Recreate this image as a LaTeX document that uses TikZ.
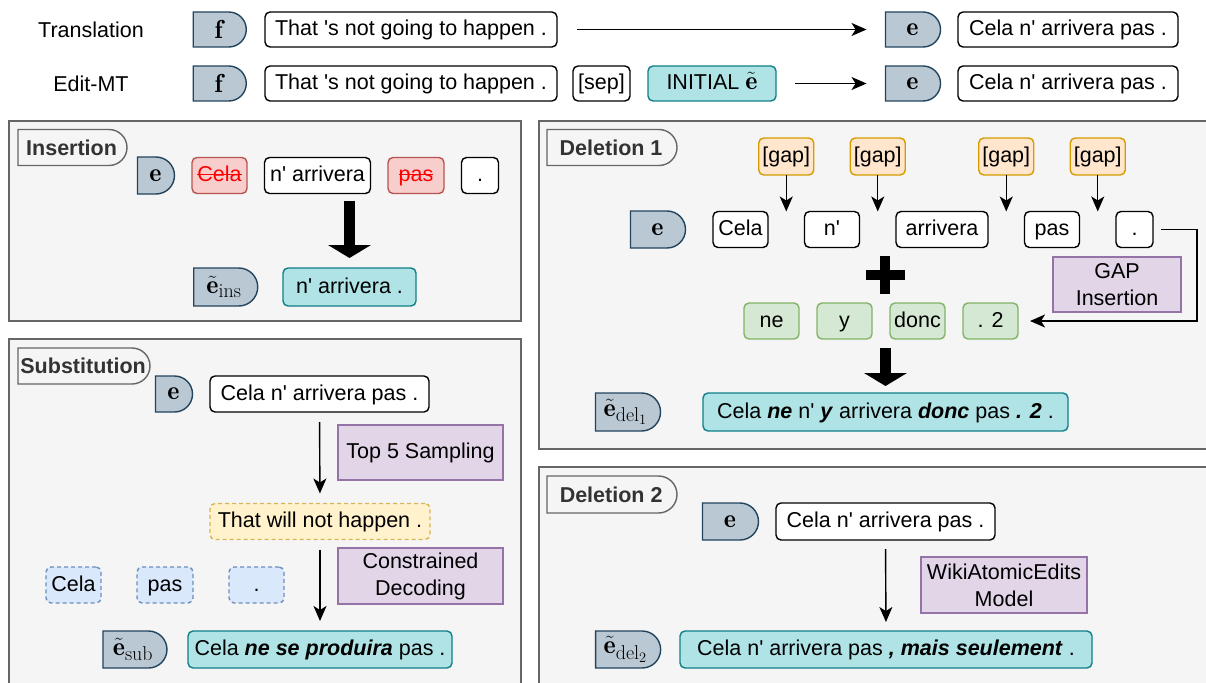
\documentclass[tikz,border=0pt]{standalone}
\usepackage{fontspec}
\setsansfont{Liberation Sans}
\usetikzlibrary{arrows.meta}
\usetikzlibrary{positioning,chains,calc}
\usetikzlibrary{shapes.misc}
\DeclareMathSizes{26}{26}{20}{15}
\definecolor{panelfill}{HTML}{F5F5F5}
\definecolor{panelline}{HTML}{666666}
\definecolor{tagtext}{HTML}{333333}
\definecolor{vecfill}{HTML}{BAC8D3}
\definecolor{vecline}{HTML}{23445D}
\definecolor{tealfill}{HTML}{B0E3E6}
\definecolor{tealline}{HTML}{0E8088}
\definecolor{redfill}{HTML}{F8CECC}
\definecolor{redline}{HTML}{B85450}
\definecolor{orangefill}{HTML}{FFE6CC}
\definecolor{orangeline}{HTML}{D79B00}
\definecolor{greenfill}{HTML}{D5E8D4}
\definecolor{greenline}{HTML}{82B366}
\definecolor{purplefill}{HTML}{E1D5E7}
\definecolor{purpleline}{HTML}{9673A6}
\definecolor{yellowfill}{HTML}{FFF2CC}
\definecolor{yellowline}{HTML}{D6B656}
\definecolor{bluefill}{HTML}{DAE8FC}
\definecolor{blueline}{HTML}{6C8EBF}
\newcommand{\ap}{\textquotesingle}
\newcommand{\bi}[1]{\textbf{\textit{#1}}}
\newsavebox{\strikebox}
\newcommand{\strike}[1]{\sbox{\strikebox}{#1}\rlap{\rule[0.3em]{\wd\strikebox}{1.3pt}}\usebox{\strikebox}}

\begin{document}
\begin{tikzpicture}[
		x=1pt, y=-1pt,
		every node/.style={font=\sffamily\fontsize{21.5}{27}\selectfont,
			inner sep=0pt, outer sep=0pt},
		panel/.style={draw=panelline, fill=panelfill, line width=1.6pt},
		tagbox/.style={rounded rectangle, rounded rectangle west arc=none,% flat left side
			draw=panelline, fill=panelfill, line width=1.4pt, text=tagtext,
			font=\sffamily\bfseries\fontsize{21.5}{27}\selectfont,
			minimum height=36pt, minimum width=#1, anchor=west},
		tagbox/.default=110pt,
		vecbox/.style={rounded rectangle, rounded rectangle west arc=none,
			draw=vecline, fill=vecfill, line width=1.4pt,
			font=\fontsize{26}{30}\selectfont,
			minimum height=37pt, minimum width=#1},
		vecbox/.default=55pt,
		tok/.style={rectangle, rounded corners=5pt, draw=black, fill=white,
			line width=1.4pt, minimum height=36pt, minimum width=#1,
			text height=16pt, text depth=3.5pt},% same baseline in every box
		tok/.default=55pt,
		redtok/.style={tok=#1, draw=redline, fill=redfill, text=red},% struck out words
		redtok/.default=55pt,
		gaptok/.style={tok=#1, draw=orangeline, fill=orangefill},
		gaptok/.default=55pt,
		newtok/.style={tok=#1, draw=greenline, fill=greenfill},
		newtok/.default=55pt,
		outtok/.style={tok=#1, draw=tealline, fill=tealfill},
		outtok/.default=55pt,
		keeptok/.style={tok=#1, draw=blueline, fill=bluefill, dash pattern=on 4pt off 3pt},
		keeptok/.default=55pt,
		candtok/.style={tok=#1, draw=yellowline, fill=yellowfill, dash pattern=on 4pt off 3pt},
		candtok/.default=220pt,
		opbox/.style={rectangle, draw=purpleline, fill=purplefill, line width=1.4pt,
			align=center, minimum width=#1, minimum height=56pt},
		opbox/.default=165pt,
		conn/.style={line width=1.4pt, -{Stealth[length=15pt, width=13pt, inset=4pt]}},
		bigarrow/.style={line width=11pt, -{Triangle[length=13pt, width=43pt, line width=0pt]}},
		]
		\useasboundingbox (0,0) rectangle (1206,682);
		\clip (0,0) rectangle (1206,682);
		% top rows
		\node (labT) at (91,29.5) {Translation};
		\node[vecbox=53pt, minimum height=35pt] (f1) at (218.5,29.5) {$\mathbf{f}$};
		\node[tok=292pt, minimum height=35pt] (s1) at (411,29.5) {That \ap s not going to happen .};
		\node[vecbox=55pt, minimum height=35pt] (e1) at (912.5,29.5) {$\mathbf{e}$};
		\node[tok=220pt, minimum height=35pt] (c1) at (1068,29.5) {Cela n\ap{} arrivera pas .};
		\draw[conn, shorten <=20pt, shorten >=19pt] (s1.east) -- (e1.west);
		\node (labE) at (91,83.5) {Edit-MT};
		\node[vecbox=53pt, minimum height=35pt] (f2) at (218.5,83.5) {$\mathbf{f}$};
		\node[tok=292pt, minimum height=35pt] (s2) at (411,83.5) {That \ap s not going to happen .};
		\node[tok=57pt, minimum height=35pt] (sep) at (601.5,83.5) {[sep]};
		\node[outtok=128pt, minimum height=35pt] (init) at (712,83.5) {INITIAL {\fontsize{26}{30}\selectfont$\tilde{\mathbf{e}}$}};
		\node[vecbox=55pt, minimum height=35pt] (e2) at (912.5,83.5) {$\mathbf{e}$};
		\node[tok=220pt, minimum height=35pt] (c2) at (1068,83.5) {Cela n\ap{} arrivera pas .};
		\draw[conn, shorten <=19pt, shorten >=19pt] (init.east) -- (e2.west);
		% insertion
		\draw[panel] (9,121) rectangle (521,321);
		\node[tagbox=109pt] (insTag) at (18,147.5) {Insertion};
		\node[vecbox=37pt] (insE) at (155.5,175.5) {$\mathbf{e}$};
		\begin{scope}[start chain=ins going right, node distance=17.5pt]
			\node[redtok=55pt, on chain] (insW1) at (219.5,175.5) {\strike{Cela}};
			\node[tok=106pt, on chain] (insW2) {n\ap{} arrivera};
			\node[redtok=56pt, on chain] (insW3) {\strike{pas}};
			\node[tok=37pt, on chain] (insW4) {.};
		\end{scope}
		\node[vecbox=64pt, minimum height=38pt] (insR) at (224,287) {$\tilde{\mathbf{e}}_{\mathrm{ins}}$};
		\node[outtok=133pt, minimum height=38pt] (insT) at (349.5,287) {n\ap{} arrivera .};
		\draw[bigarrow, shorten <=7pt, shorten >=10pt] (insT.north |- insW2.south) -- (insT.north);
		% substitution
		\draw[panel] (9,339) rectangle (521,700);
		\node[tagbox=132pt] (subTag) at (18,366) {Substitution};
		\node[vecbox=37pt, minimum height=36pt] (subE) at (173.5,394) {$\mathbf{e}$};
		\node[tok=219pt] (subS) at (319.5,394) {Cela n\ap{} arrivera pas .};
		\node[opbox, minimum height=55pt] (top5) at (420.5,452.5) {Top 5 Sampling};
		\node[candtok] (cand) at (320,521.5) {That will not happen .};
		\node[opbox] (cons) at (420.5,576) {Constrained\\Decoding};
		\begin{scope}[start chain=keep going right, node distance=36pt]
			\node[keeptok=55pt, on chain] (keep1) at (73.5,585) {Cela};
			\node[keeptok=56pt, on chain] (keep2) {pas};
			\node[keeptok=55pt, on chain] (keep3) {.};
		\end{scope}
		\node[vecbox=64pt] (subR) at (133,649.5) {$\tilde{\mathbf{e}}_{\mathrm{sub}}$};
		\node[outtok=264pt, minimum height=37pt] (subT) at (320,649.5) {Cela \bi{ne se produira} pas .};
		\draw[conn, shorten <=10pt, shorten >=10pt] (subS.south) -- (cand.north);
		\draw[conn, shorten <=10pt, shorten >=10pt] (cand.south) -- (subT.north);
		% deletion 1
		\draw[panel] (539,121) rectangle (1220,449);
		\node[tagbox=130pt] (d1Tag) at (547,147.5) {Deletion 1};
		\node[vecbox=55pt] (d1E) at (657.5,229.5) {$\mathbf{e}$};
		\begin{scope}[start chain=del going right, node distance=36.5pt]
			\node[tok=55pt, on chain] (d1w1) at (740.5,229.5) {Cela};
			\node[tok=55pt, on chain] (d1w2) {n\ap};
			\node[tok=92pt, on chain] (d1w3) {arrivera};
			\node[tok=55pt, on chain] (d1w4) {pas};
			\node[tok=37pt, on chain] (d1w5) {.};
		\end{scope}
		\foreach \a/\b [count=\i] in {d1w1/d1w2,d1w2/d1w3,d1w3/d1w4,d1w4/d1w5}{
			\coordinate (slot\i) at ($(\a.north east)!0.5!(\b.north west)$);
			\node[gaptok=55pt, minimum height=37pt] (gap\i) at (slot\i |- 0,156.5) {[gap]};
			\draw[conn] (gap\i) -- (slot\i);
		}
		\node[opbox=128pt, minimum height=55pt] (gapIns) at (1117,284.5) {GAP\\Insertion};
		\coordinate (plus) at (885,275);
		\draw[line width=10pt] (plus) +(-19.5,0) -- +(19.5,0) (plus) +(0,-19) -- +(0,19);
		\begin{scope}[start chain=new going right, node distance=18pt]
			\node[newtok=55pt, on chain] (d1g1) at (771.5,321) {ne};
			\node[newtok=55pt, on chain] (d1g2) {y};
			\node[newtok=55pt, on chain] (d1g3) {donc};
			\node[newtok=55pt, on chain] (d1g4) {. 2};
		\end{scope}
		\draw[conn, shorten <=8pt, shorten >=12pt] (d1w5.east) -- ++(44,0) |- (d1g4.east);
		\node[vecbox=65pt, minimum height=38pt] (d1R) at (625.5,412) {$\tilde{\mathbf{e}}_{\mathrm{del}_1}$};
		\node[outtok=365pt, minimum height=38pt] (d1T) at (885.5,412) {Cela \bi{ne} n\ap{} \bi{y} arrivera \bi{donc} pas \bi{. 2} .};
		\draw[bigarrow, shorten <=9pt, shorten >=7pt] (d1T.north |- d1g1.south) -- (d1T.north);
		% deletion 2
		\draw[panel] (539,467) rectangle (1220,700);
		\node[tagbox=130pt, minimum height=37pt] (d2Tag) at (547,494.5) {Deletion 2};
		\node[vecbox=56pt] (d2E) at (730,521.5) {$\mathbf{e}$};
		\node[tok=219pt, minimum height=37pt] (d2S) at (885.5,521.5) {Cela n\ap{} arrivera pas .};
		\node[opbox=166pt] (wiki) at (1004,585) {WikiAtomicEdits\\Model};
		\node[vecbox=65pt] (d2R) at (625.5,649.5) {$\tilde{\mathbf{e}}_{\mathrm{del}_2}$};
		\node[outtok=412pt, minimum height=37pt] (d2T) at (886,649.5) {Cela n\ap{} arrivera pas \bi{, mais seulement} .};
		\draw[conn, shorten <=9pt, shorten >=9pt] (d2S.south) -- (d2T.north);
	\end{tikzpicture}
\end{document}
